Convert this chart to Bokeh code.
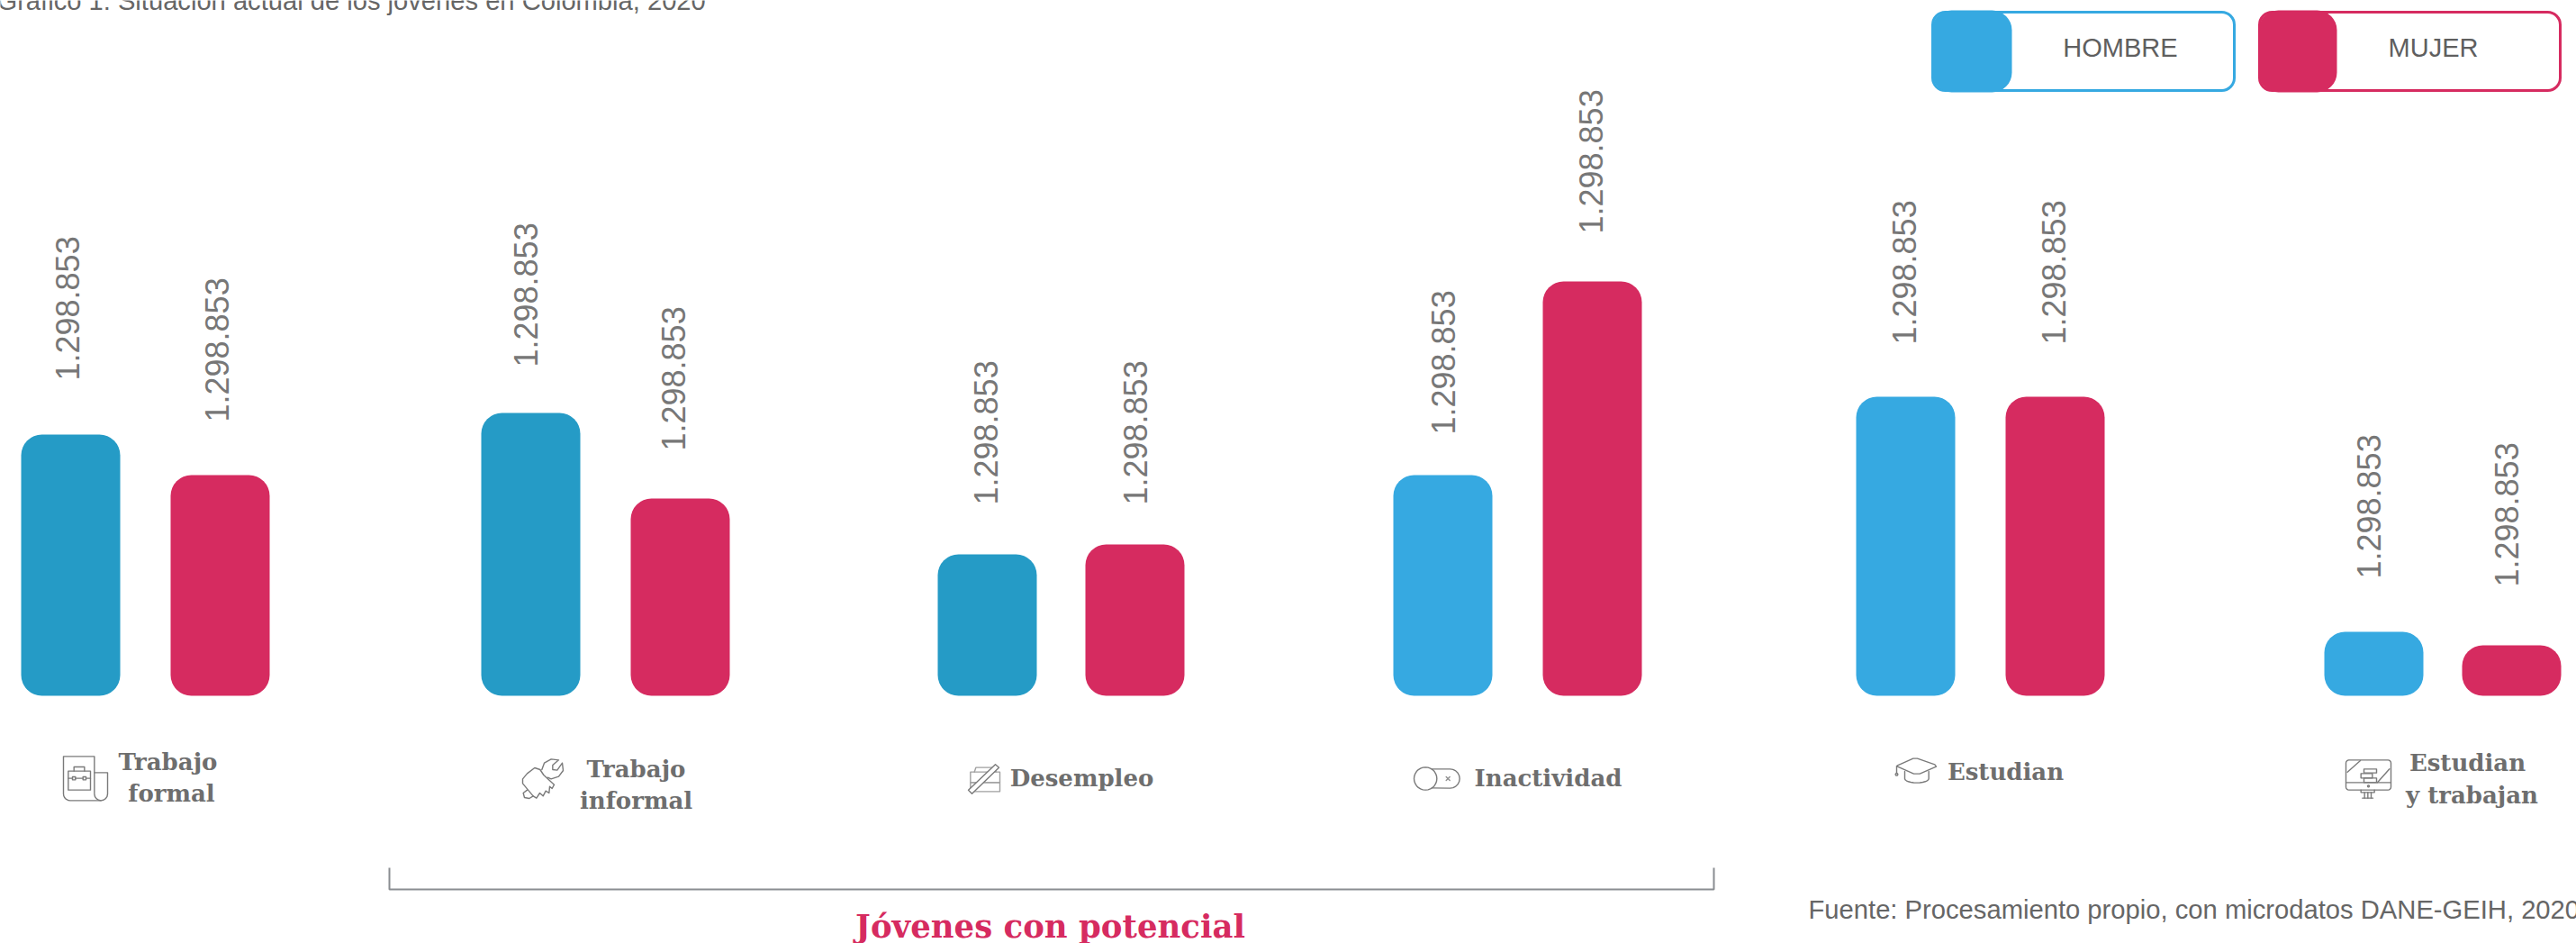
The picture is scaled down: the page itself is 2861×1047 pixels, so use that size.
import math
from bokeh.embed import file_html
from bokeh.models import ColumnDataSource, Range1d
from bokeh.plotting import figure
from bokeh.resources import INLINE
from bokeh.core.properties import value

# ---- data ----
categorias = ["Trabajo formal", "Trabajo informal", "Desempleo", "Inactividad", "Estudian", "Estudian y trabajan"]
hombres = [290, 314, 157, 245, 332, 71]
mujeres = [245, 219, 168, 460, 332, 56]
etiqueta_hombres = ["1.298.853"] * 6
etiqueta_mujeres = ["1.298.853"] * 6

# ---- layout (screen pixels, y measured downward from the page top) ----
W, H = 2861, 1047
BASE = 772
hombre_izq = [23, 534, 1041, 1547, 2061, 2581]
mujer_izq = [189, 700, 1205, 1713, 2227, 2734]
BAR_W = 110
gap_hombres = [60, 51, 55, 45, 58, 59]
gap_mujeres = [59, 53, 44, 53, 58, 65]
dx_hombres = [0, -2, 2, 4, 2, -2]
dx_mujeres = [0, -4, 4, 2, 2, -2]
col_hombres = ["#259BC6"] * 3 + ["#36A9E1"] * 3
ROJO = "#D62B60"
AZUL = "#36A9E1"
GRIS = "#6E6E6E"
ICONO = "#7A7A7A"
SANS = value("Liberation Sans")
SLAB = value("DejaVu Serif")


def sy(y):
    return BASE - y


p = figure(width=W, height=H, output_backend="svg", toolbar_location=None,
           x_range=Range1d(0, W), y_range=Range1d(BASE - H, BASE),
           min_border=0, outline_line_color=None, background_fill_color="white")
p.axis.visible = False
p.grid.visible = False

# ---- bars ----
src_h = ColumnDataSource(dict(left=hombre_izq, right=[x + BAR_W for x in hombre_izq],
                              top=hombres, bottom=[0] * 6, color=col_hombres, cat=categorias))
src_m = ColumnDataSource(dict(left=mujer_izq, right=[x + BAR_W for x in mujer_izq],
                              top=mujeres, bottom=[0] * 6, cat=categorias))
p.quad(left="left", right="right", top="top", bottom="bottom", source=src_h,
       fill_color="color", line_color=None, border_radius=23)
p.quad(left="left", right="right", top="top", bottom="bottom", source=src_m,
       fill_color=ROJO, line_color=None, border_radius=23)

# ---- rotated value labels ----
OFF_X = BAR_W / 2 - 3.5
p.text(x=[x + OFF_X + d for x, d in zip(hombre_izq, dx_hombres)],
       y=[v + g for v, g in zip(hombres, gap_hombres)],
       text=etiqueta_hombres, angle=math.pi / 2, text_align="left", text_baseline="middle",
       text_font=SANS, text_font_size="36px", text_color="#777777")
p.text(x=[x + OFF_X + d for x, d in zip(mujer_izq, dx_mujeres)],
       y=[v + g for v, g in zip(mujeres, gap_mujeres)],
       text=etiqueta_mujeres, angle=math.pi / 2, text_align="left", text_baseline="middle",
       text_font=SANS, text_font_size="36px", text_color="#777777")


def label(x, y, txt, font=SANS, size=26, color=GRIS, align="center", style="normal"):
    # y is the wanted baseline; the vertical centre of the em box sits about a third of the size above it
    p.text(x=[x], y=[sy(y - 0.33 * size)], text=[txt], text_align=align, text_baseline="middle",
           text_font=font, text_font_size=f"{size}px", text_color=color, text_font_style=style)


# ---- category captions ----
captions = [(186, 854, "Trabajo"), (190, 889, "formal"), (706, 862, "Trabajo"), (706, 897, "informal"),
            (1201, 872, "Desempleo"), (1719, 872, "Inactividad"), (2227, 865, "Estudian"),
            (2740, 855, "Estudian"), (2745, 891, "y trabajan")]
for cx, cy, t in captions:
    label(cx, cy, t, font=SLAB, size=26, style="bold")

# ---- title, source, bracket ----
label(-4, 10, "Gráfico 1: Situación actual de los jóvenes en Colombia, 2020",
      size=29.15, color="#666666", align="left")
label(2008, 1019, "Fuente: Procesamiento propio, con microdatos DANE-GEIH, 2020",
      size=29.2, color="#666666", align="left")
p.line([432, 432, 1903, 1903], [sy(963), sy(987), sy(987), sy(963)], line_color="#8A8D91", line_width=2)
label(1166, 1040, "Jóvenes con potencial", font=SLAB, size=35.5, color=ROJO, style="bold")

# ---- legend ----
for x0, x1, sw, c, t, tx in [(2146, 2481, 2234, AZUL, "HOMBRE", 2354.5), (2509, 2843, 2595, ROJO, "MUJER", 2702)]:
    p.quad(left=[x0], right=[x1], top=[sy(13)], bottom=[sy(100)], fill_color="white",
           line_color=c, line_width=3, border_radius=14)
    p.quad(left=[x0 - 1], right=[sw], top=[sy(11)], bottom=[sy(102)], fill_color=c,
           line_color=None, border_radius=22)
    label(tx, 62, t, size=29, color="#5F5F5F")


# ---- icons: outlines given in small local grids, 3 units per pixel ----
def arc(cx, cy, r, a0, a1, n=10, ry=None):
    ry = r if ry is None else ry
    return [(cx + r * math.cos(math.radians(a0 + (a1 - a0) * i / n)),
             cy + ry * math.sin(math.radians(a0 + (a1 - a0) * i / n))) for i in range(n + 1)]


def stroke(ox, oy, pts, fill=None, color=ICONO, width=1.4):
    xs = [ox + a / 3 for a, _ in pts]
    ys = [sy(oy + b / 3) for _, b in pts]
    if fill:
        p.patch(xs, ys, fill_color=fill, line_color=color, line_width=width, line_join="round")
    else:
        p.line(xs, ys, line_color=color, line_width=width, line_join="round", line_cap="round")


def box(ox, oy, x0, y0, x1, y1, **kw):
    stroke(ox, oy, [(x0, y0), (x1, y0), (x1, y1), (x0, y1), (x0, y0)], **kw)


# briefcase on a scroll
o = (60, 825)
stroke(*o, [(133, 165), (133, 43), (30, 43), (30, 168)] + arc(52, 168, 22, 180, 90, 5) + [(155, 190)])
stroke(*o, [(133, 97), (177, 97), (177, 168)] + arc(155, 168, 22, 0, 180, 8))
box(*o, 46, 92, 120, 155)
stroke(*o, [(65, 92), (65, 78), (100, 78), (100, 92)])
stroke(*o, [(46, 116), (60, 116)])
stroke(*o, [(70, 116), (95, 116)])
stroke(*o, [(105, 116), (120, 116)])
box(*o, 60, 111, 70, 121)
box(*o, 95, 111, 105, 121)

# handshake with a wrench
o = (570, 830)
stroke(*o, [(45, 140), (32, 150), (36, 165), (52, 168), (65, 160)])
stroke(*o, [(30, 118), (30, 103), (45, 85), (70, 66), (88, 72), (100, 90), (135, 122), (128, 135),
            (120, 128), (118, 150), (107, 143), (98, 160), (87, 150), (76, 167), (65, 160), (30, 118)])
stroke(*o, [(94, 72), (102, 50), (125, 37), (150, 40), (130, 57), (130, 72), (145, 74), (162, 50),
            (165, 75), (150, 95), (125, 103), (113, 98)])

# crossed-out folder
o = (1065, 835)
stroke(*o, [(50, 65), (55, 50), (120, 50), (122, 65)], color="#A0A0A0")
box(*o, 37, 65, 135, 100, color="#A0A0A0")
box(*o, 37, 100, 135, 130, color="#A0A0A0")
stroke(*o, [(30, 125), (120, 40), (132, 50), (42, 137), (30, 125)], fill="white")

# inactive switch
o = (1560, 835)
stroke(*o, [(90, 55), (150, 55)] + arc(150, 87, 32, -90, 90) + [(90, 118)])
stroke(*o, arc(68, 87, 38, 0, 360, 28))
stroke(*o, [(137, 81), (149, 93)], color="#909090")
stroke(*o, [(149, 81), (137, 93)], color="#909090")

# mortarboard
o = (2095, 830)
stroke(*o, [(36, 58), (88, 35), (102, 35), (160, 55), (165, 62), (110, 86), (90, 86), (36, 62), (36, 58)])
stroke(*o, [(33, 60), (33, 85)])
stroke(*o, arc(33, 88, 4, 0, 360, 10))
stroke(*o, [(60, 78), (60, 102)] + arc(100, 102, 40, 180, 0, 12, ry=14) + [(140, 78)])

# monitor with books
o = (2595, 835)
stroke(*o, [(40, 25), (170, 25)] + arc(170, 35, 10, -90, 0, 4) + [(180, 115)] + arc(170, 115, 10, 0, 90, 4)
       + [(40, 125)] + arc(40, 115, 10, 90, 180, 4) + [(30, 35)] + arc(40, 35, 10, 180, 270, 4))
stroke(*o, [(30, 100), (180, 100)])
stroke(*o, [(35, 65), (78, 27)])
stroke(*o, [(135, 100), (175, 55)])
box(*o, 90, 55, 132, 68)
box(*o, 80, 70, 118, 85)
box(*o, 90, 85, 132, 100)
stroke(*o, arc(105, 112, 3, 0, 360, 8))
stroke(*o, [(80, 125), (80, 133), (125, 133), (125, 125)])
stroke(*o, [(92, 133), (92, 152)])
stroke(*o, [(103, 133), (103, 152)])
stroke(*o, [(114, 133), (114, 152)])
stroke(*o, [(85, 152), (120, 152)])

open("out.html", "w").write(file_html(p, INLINE))
